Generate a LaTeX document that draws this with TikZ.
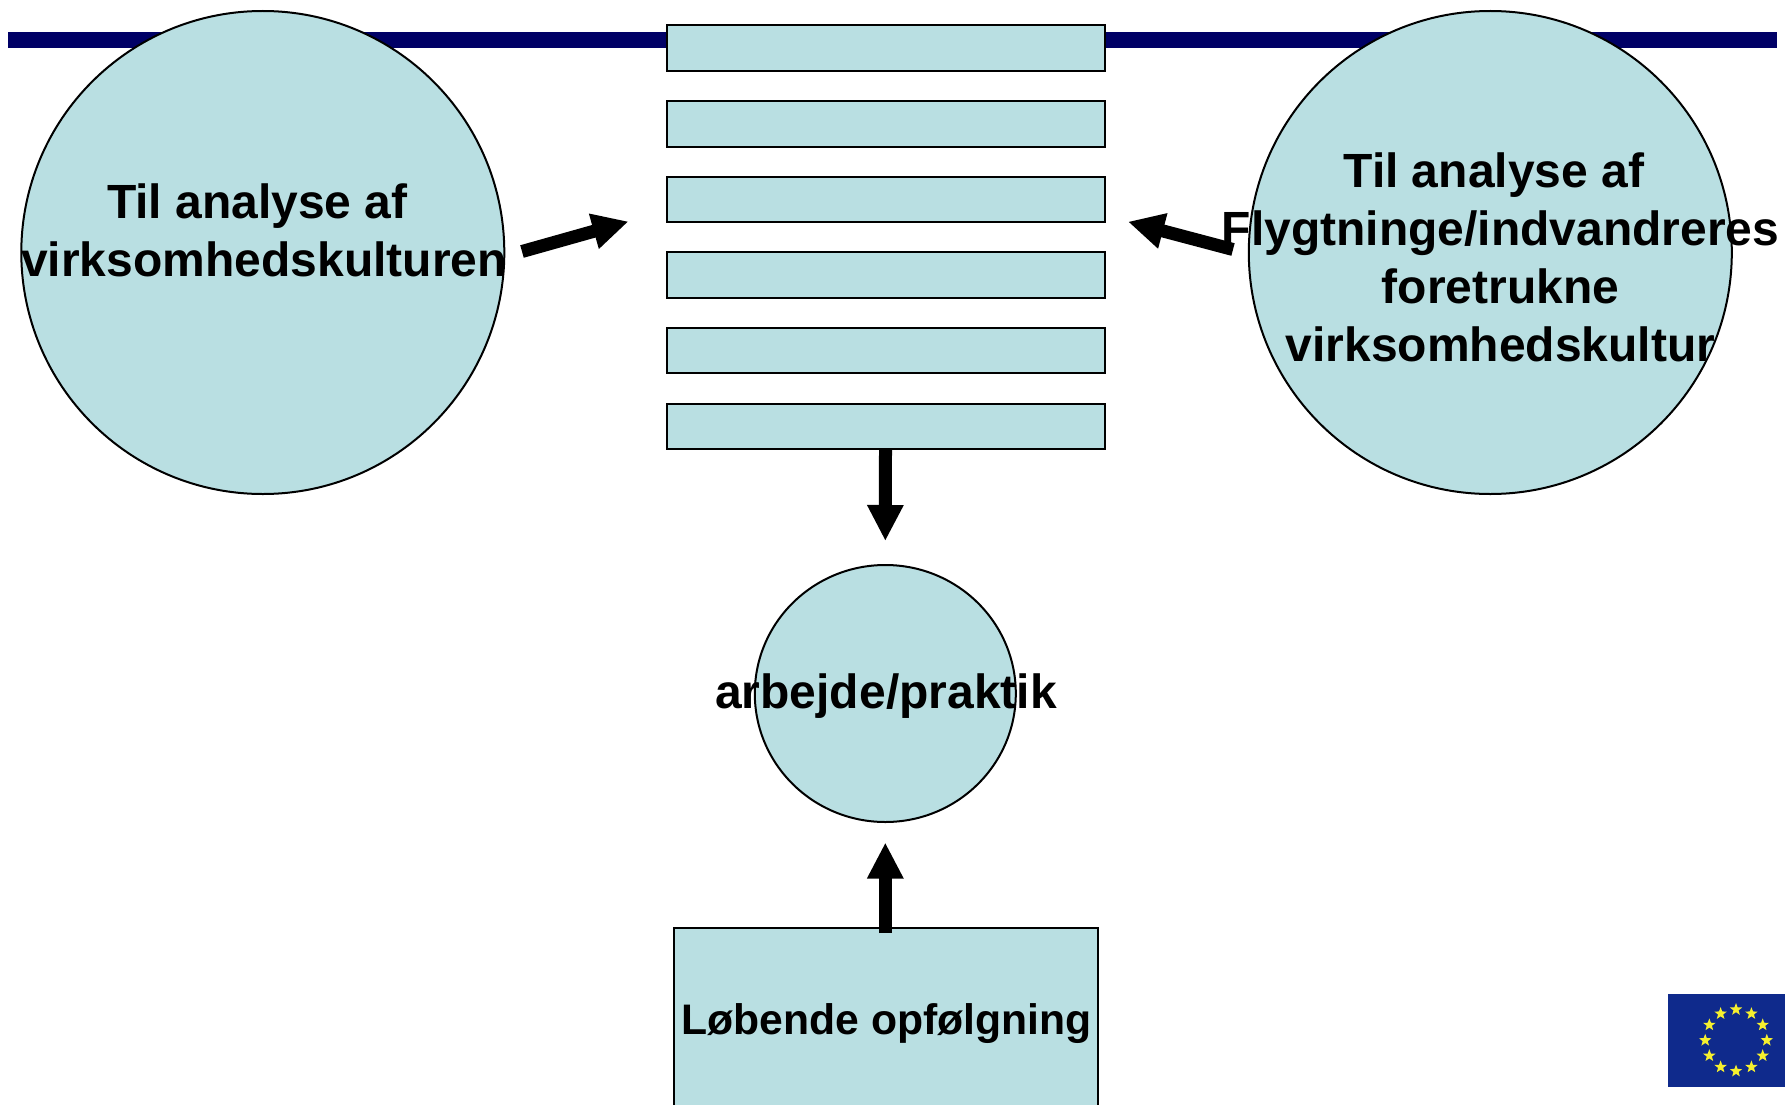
\documentclass[tikz,border=0pt]{standalone}
\usepackage{fontspec}
\setmainfont{Liberation Sans}
\usetikzlibrary{arrows.meta,shapes.geometric}
\definecolor{paleblue}{HTML}{B9DFE2}
\definecolor{barnavy}{HTML}{000066}
\definecolor{flagblue}{HTML}{0F2A8C}
\definecolor{flagstar}{HTML}{F6F02E}
\tikzset{
  x=1pt,y=-1pt,
  boxshape/.style={draw=black,line width=2pt,fill=paleblue,rectangle,inner sep=0pt,minimum width=438pt,minimum height=45.5pt},
  roundshape/.style={draw=black,line width=2pt,fill=paleblue,circle,inner sep=0pt},
  bigarrow/.style={line width=13pt,black,-{Triangle[length=36pt,width=34pt]}},
  label/.style={font=\fontsize{48}{58}\selectfont\bfseries,align=center,inner sep=0pt,text=black},
  eustar/.style={star,star points=5,star point ratio=2.4,fill=flagstar,inner sep=0pt,minimum size=13pt}
}
\begin{document}
\begin{tikzpicture}
\useasboundingbox (0,0) rectangle (1785,1105);
\clip (0,0) rectangle (1785,1105);
\fill[barnavy] (8,32) rectangle (1777,48.3);
\foreach \n/\y in {1/48.2,2/123.8,3/199.4,4/275,5/350.6,6/426.4}
  \node[boxshape] (b\n) at (885.5,\y) {};
\node[roundshape,minimum size=483pt] (cl) at (262.8,252.5) {};
\node[roundshape,minimum size=483pt] (cr) at (1490.3,252.5) {};
\node[draw=black,line width=2pt,fill=paleblue,ellipse,inner sep=0pt,minimum width=261pt,minimum height=257pt] (cm) at (885.3,693.5) {};
\node[draw=black,line width=2pt,fill=paleblue,rectangle,inner sep=0pt,minimum width=424pt,minimum height=200pt,anchor=north] (follow) at (885.5,927) {};
\fill[flagblue] (1667.7,993.5) rectangle (1785,1087);
\foreach \i in {0,30,...,330}
  \node[eustar] (st\i) at ({1736+30.8*sin(\i)},{1040.3-30.8*cos(\i)}) {};
\coordinate (la) at (522,251.5);
\coordinate (lb) at (628.5,221.5);
\coordinate (ra) at (1233,249.5);
\coordinate (rb) at (1128,221.7);
\coordinate (da) at (885.3,541);
\coordinate (ua) at (885.3,933);
\coordinate (ub) at (885.3,842.5);
\draw[bigarrow] (la) -- (lb);
\draw[bigarrow] (ra) -- (rb);
\draw[bigarrow] (b6.south) -- (da);
\draw[bigarrow] (ua) -- (ub);
\node[label] (tl) at (264,230.5) {Til analyse af\hspace*{.278em}\\virksomhedskulturen};
\node[label] (tr) at (1500.5,257) {Til analyse af\hspace*{.278em}\\Flygtninge/indvandreres\\foretrukne\\virksomhedskultur};
\node[label,anchor=base] (tm) at (886,708.8) {arbejde/praktik};
\node[label,anchor=base,font=\fontsize{42.7}{50}\selectfont\bfseries] (tb) at (886.5,1034.5) {Løbende opfølgning};
\end{tikzpicture}
\end{document}
